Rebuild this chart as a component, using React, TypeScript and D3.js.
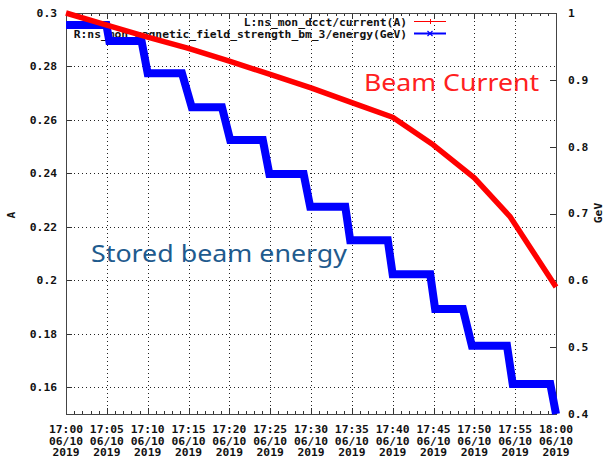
import React, { useEffect, useRef } from "react";
import * as d3 from "d3";

// minutes after 17:00 on 2019-06-10
const currentMinutes = [0, 5, 10, 15, 20, 25, 30, 35, 40, 45, 50, 54.4, 60];
const currentValues = [0.3, 0.2955, 0.291, 0.2868, 0.282, 0.277, 0.272, 0.2665, 0.261, 0.2506, 0.2383, 0.2237, 0.1975];

const energyMinutes = [0, 4.95, 5.3, 9.25, 10.0, 14.2, 15.4, 19.1, 20.1, 24.1, 24.9, 29.1, 29.9, 34.2, 34.8, 39.4, 40.0, 44.6, 45.2, 48.6, 49.7, 54.0, 54.7, 59.3, 60];
const energyValues = [0.982, 0.982, 0.958, 0.958, 0.91, 0.91, 0.859, 0.859, 0.81, 0.81, 0.759, 0.759, 0.71, 0.71, 0.66, 0.66, 0.609, 0.609, 0.557, 0.557, 0.502, 0.502, 0.445, 0.445, 0.4];

const leftTicks = [0.16, 0.18, 0.2, 0.22, 0.24, 0.26, 0.28, 0.3];
const rightTicks = [0.4, 0.5, 0.6, 0.7, 0.8, 0.9, 1];
const dateLabel = "06/10";
const yearLabel = "2019";

const legendLabels = ["L:ns_mon_dcct/current(A)", "R:ns_mon_magnetic_field_strength_bm_3/energy(GeV)"];

const W = 606;
const H = 461;
const margin = { top: 13, right: 50, bottom: 47, left: 66 };
const mono = "'DejaVu Sans Mono', monospace";

const toDate = (m: number) => new Date(2019, 5, 10, 17, 0, m * 60);

const App = () => {
    const svgRef = useRef<SVGSVGElement>(null);

    useEffect(() => {
        const svg = d3.select(svgRef.current);
        svg.selectAll("*").remove();

        const x0 = margin.left;
        const x1 = W - margin.right;
        const y0 = H - margin.bottom;
        const y1 = margin.top;

        const x = d3.scaleTime().domain([toDate(0), toDate(60)]).range([x0, x1]);
        const yL = d3.scaleLinear().domain([0.15, 0.3]).range([y0, y1]);
        const yR = d3.scaleLinear().domain([0.4, 1]).range([y0, y1]);

        const majorTimes = x.ticks(d3.timeMinute.every(5)!);
        const minorTimes = x.ticks(d3.timeMinute.every(1)!);

        svg.append("rect").attr("width", W).attr("height", H).attr("fill", "white");

        // grid
        const grid = svg.append("g")
            .attr("stroke", "#222")
            .attr("stroke-width", 1)
            .attr("stroke-dasharray", "1,3");
        grid.selectAll("line.v")
            .data(majorTimes.slice(1, -1))
            .join("line")
            .attr("x1", (d) => Math.round(x(d)) + 0.5)
            .attr("x2", (d) => Math.round(x(d)) + 0.5)
            .attr("y1", y1)
            .attr("y2", y0);
        grid.selectAll("line.h")
            .data(leftTicks.filter((d) => d < 0.3))
            .join("line")
            .attr("x1", x0)
            .attr("x2", x1)
            .attr("y1", (d) => Math.round(yL(d)) + 0.5)
            .attr("y2", (d) => Math.round(yL(d)) + 0.5);

        // ticks
        const ticks = svg.append("g").attr("stroke", "#333").attr("stroke-width", 1);
        minorTimes.forEach((t) => {
            const isMajor = t.getMinutes() % 5 === 0;
            const len = isMajor ? 6 : 3;
            const px = Math.round(x(t)) + 0.5;
            ticks.append("line").attr("x1", px).attr("x2", px).attr("y1", y0).attr("y2", y0 - len);
            ticks.append("line").attr("x1", px).attr("x2", px).attr("y1", y1).attr("y2", y1 + len);
        });
        leftTicks.forEach((v) => {
            const py = Math.round(yL(v)) + 0.5;
            ticks.append("line").attr("x1", x0).attr("x2", x0 + 6).attr("y1", py).attr("y2", py);
        });
        rightTicks.forEach((v) => {
            const py = Math.round(yR(v)) + 0.5;
            ticks.append("line").attr("x1", x1).attr("x2", x1 - 6).attr("y1", py).attr("y2", py);
        });

        // border
        svg.append("rect")
            .attr("x", x0 + 0.5)
            .attr("y", y1 + 0.5)
            .attr("width", x1 - x0)
            .attr("height", y0 - y1)
            .attr("fill", "none")
            .attr("stroke", "#444")
            .attr("stroke-width", 1);

        const labels = svg.append("g")
            .attr("font-family", mono)
            .attr("font-weight", "bold")
            .attr("font-size", 11.3)
            .attr("fill", "#111");

        labels.selectAll("text.l")
            .data(leftTicks)
            .join("text")
            .attr("x", x0 - 9)
            .attr("y", (d) => yL(d))
            .attr("dy", "0.35em")
            .attr("text-anchor", "end")
            .text((d) => d3.format("")(d));

        labels.selectAll("text.r")
            .data(rightTicks)
            .join("text")
            .attr("x", x1 + 12)
            .attr("y", (d) => yR(d))
            .attr("dy", "0.35em")
            .attr("text-anchor", "start")
            .text((d) => d3.format("")(d));

        const fmt = d3.timeFormat("%H:%M");
        const xl = labels.selectAll("g.x")
            .data(majorTimes)
            .join("g")
            .attr("transform", (d) => `translate(${x(d)},0)`);
        xl.append("text").attr("y", 433).attr("text-anchor", "middle").text((d) => fmt(d));
        xl.append("text").attr("y", 444.5).attr("text-anchor", "middle").text(dateLabel);
        xl.append("text").attr("y", 456).attr("text-anchor", "middle").text(yearLabel);

        labels.append("text")
            .attr("transform", `translate(15,215) rotate(-90)`)
            .attr("text-anchor", "middle")
            .text("A");
        labels.append("text")
            .attr("transform", `translate(602,213) rotate(-90)`)
            .attr("text-anchor", "middle")
            .text("GeV");

        // legend
        const legend = labels.append("g");
        legendLabels.forEach((lab, i) => {
            legend.append("text")
                .attr("x", 407)
                .attr("y", 21.7 + i * 12)
                .attr("dy", "0.35em")
                .attr("text-anchor", "end")
                .text(lab);
        });
        svg.append("line").attr("x1", 414).attr("x2", 446).attr("y1", 21.5).attr("y2", 21.5)
            .attr("stroke", "red").attr("stroke-width", 1);
        svg.append("line").attr("x1", 430.5).attr("x2", 430.5).attr("y1", 19).attr("y2", 24)
            .attr("stroke", "red").attr("stroke-width", 1);
        svg.append("line").attr("x1", 414).attr("x2", 446).attr("y1", 33.5).attr("y2", 33.5)
            .attr("stroke", "blue").attr("stroke-width", 2);
        svg.append("path").attr("d", "M427.5,31L432.5,36M427.5,36L432.5,31")
            .attr("stroke", "blue").attr("stroke-width", 1.2);

        // series
        const energy = energyMinutes.map((m, i) => [toDate(m), energyValues[i]] as [Date, number]);
        const current = currentMinutes.map((m, i) => [toDate(m), currentValues[i]] as [Date, number]);

        svg.append("path")
            .datum(energy)
            .attr("fill", "none")
            .attr("stroke", "#0000ff")
            .attr("stroke-width", 8)
            .attr("stroke-linejoin", "miter")
            .attr("d", d3.line<[Date, number]>().x((d) => x(d[0])).y((d) => yR(d[1])));

        svg.append("path")
            .datum(current)
            .attr("fill", "none")
            .attr("stroke", "#ff0000")
            .attr("stroke-width", 5.5)
            .attr("stroke-linejoin", "round")
            .attr("d", d3.line<[Date, number]>().x((d) => x(d[0])).y((d) => yL(d[1])));

        // annotations
        svg.append("text")
            .attr("x", 364)
            .attr("y", 91)
            .attr("font-family", "'Noto Sans', sans-serif")
            .attr("font-size", 23)
            .attr("fill", "#ff2020")
            .attr("textLength", 175)
            .attr("lengthAdjust", "spacingAndGlyphs")
            .text("Beam Current");
        svg.append("text")
            .attr("x", 91)
            .attr("y", 262)
            .attr("font-family", "'Noto Sans', sans-serif")
            .attr("font-size", 23.5)
            .attr("fill", "#1f5b8e")
            .attr("textLength", 256)
            .attr("lengthAdjust", "spacingAndGlyphs")
            .text("Stored beam energy");
    }, []);

    return (
        <div style={{ position: "absolute", left: 0, top: 0 }}>
            <svg ref={svgRef} width={W} height={H} style={{ display: "block" }} />
        </div>
    );
};

export default App;
